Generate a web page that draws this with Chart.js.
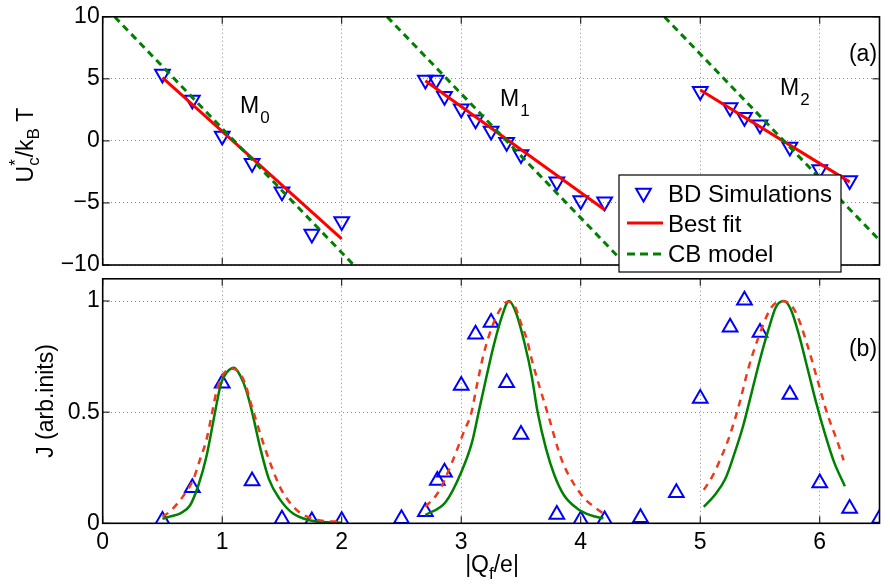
<!DOCTYPE html>
<html>
<head>
<meta charset="utf-8">
<title>U*c/kBT and J vs |Qf/e|</title>
<script src="https://cdn.jsdelivr.net/npm/chart.js@4.4.1/dist/chart.umd.min.js"></script>
<style>
  html, body { margin: 0; padding: 0; background: #fff; }
  #wrap { position: relative; width: 890px; height: 586px; overflow: hidden; }
  #wrap canvas { position: absolute; left: 0; }
  #topChart { top: 0; }
  #botChart { top: 262px; }
</style>
</head>
<body>
<div id="wrap">
  <canvas id="topChart" width="890" height="290"></canvas>
  <canvas id="botChart" width="890" height="324"></canvas>
</div>
<script>
// ---------- panel (a) : U*_c / k_B T ----------
var m0Q = [0.5, 0.75, 1.0, 1.25, 1.5, 1.75, 2.0];
var m0U = [5.4, 3.3, 0.4, -1.8, -4.1, -7.5, -6.5];
var m1Q = [2.7, 2.79, 2.86, 3.0, 3.12, 3.25, 3.38, 3.5, 3.8, 4.0, 4.2];
var m1U = [4.9, 4.9, 3.6, 2.6, 1.7, 0.8, -0.1, -1.1, -3.3, -4.8, -4.9];
var m2Q = [5.0, 5.25, 5.37, 5.5, 5.75, 6.0, 6.25];
var m2U = [4.0, 2.7, 1.9, 1.3, -0.5, -2.3, -3.2];

// best fit (end points of each segment)
var fit0Q = [0.5, 2.0],  fit0U = [5.1, -7.9];
var fit1Q = [2.7, 4.2],  fit1U = [4.85, -5.55];
var fit2Q = [5.0, 6.25], fit2U = [4.1, -3.3];

// CB model
var cb0Q = [0.1, 2.1],   cb0U = [10, -10];
var cb1Q = [2.38, 4.38], cb1U = [10, -10];
var cb2Q = [4.7, 6.7],   cb2U = [10, -10];

// ---------- panel (b) : J ----------
var jQ = [0.5, 0.75, 1.0, 1.25, 1.5, 1.75, 2.0, 2.5,
          2.7, 2.8, 2.86, 3.0, 3.12, 3.25, 3.38, 3.5, 3.8, 4.0, 4.2, 4.5, 4.8,
          5.0, 5.25, 5.37, 5.5, 5.75, 6.0, 6.25, 6.5];
var jVal = [0.013, 0.16, 0.63, 0.19, 0.018, 0.01, 0.012, 0.02,
            0.052, 0.193, 0.23, 0.62, 0.851, 0.903, 0.632, 0.40, 0.04, 0.015, 0.015, 0.025, 0.137,
            0.561, 0.882, 1.004, 0.858, 0.58, 0.181, 0.067, 0.022];

// green solid curves
var gQ0 = [0.5, 0.56, 0.65, 0.73, 0.8, 0.87, 0.94, 0.99, 1.04, 1.10, 1.15, 1.20, 1.25, 1.32, 1.39, 1.48, 1.59, 1.72, 1.85, 2.0];
var gJ0 = [0.02, 0.03, 0.045, 0.08, 0.17, 0.305, 0.5, 0.63, 0.68, 0.70, 0.665, 0.60, 0.5, 0.335, 0.2, 0.11, 0.045, 0.015, 0.006, 0.003];
var gQ1 = [2.70, 2.87, 3.0, 3.09, 3.145, 3.2, 3.27, 3.34, 3.40, 3.46, 3.53, 3.59, 3.64, 3.71, 3.78, 3.86, 3.97, 4.08, 4.19];
var gJ1 = [0.037, 0.096, 0.23, 0.364, 0.498, 0.632, 0.796, 0.93, 1.0, 0.945, 0.81, 0.662, 0.498, 0.335, 0.216, 0.126, 0.067, 0.037, 0.022];
var gQ2 = [5.03, 5.12, 5.21, 5.29, 5.36, 5.43, 5.50, 5.57, 5.635, 5.70, 5.76, 5.83, 5.90, 5.97, 6.04, 6.12, 6.21];
var gJ2 = [0.074, 0.126, 0.20, 0.32, 0.44, 0.588, 0.737, 0.87, 0.975, 1.0, 0.96, 0.84, 0.692, 0.543, 0.409, 0.275, 0.167];

// red dashed curves
var rQ0 = [0.5, 0.56, 0.67, 0.76, 0.81, 0.87, 0.91, 0.95, 0.99, 1.09, 1.19, 1.23, 1.28, 1.35, 1.42, 1.49, 1.56, 1.64, 1.75, 1.86, 1.99];
var rJ0 = [0.03, 0.052, 0.12, 0.2, 0.28, 0.38, 0.483, 0.588, 0.655, 0.695, 0.632, 0.558, 0.469, 0.35, 0.245, 0.156, 0.097, 0.052, 0.022, 0.01, 0.007];
var rQ1 = [2.70, 2.81, 2.92, 3.02, 3.085, 3.13, 3.19, 3.27, 3.35, 3.39, 3.45, 3.50, 3.55, 3.59, 3.67, 3.73, 3.81, 3.86, 3.95, 4.03, 4.13, 4.21];
var rJ1 = [0.074, 0.141, 0.27, 0.409, 0.498, 0.618, 0.766, 0.90, 0.982, 0.997, 0.975, 0.90, 0.826, 0.737, 0.588, 0.483, 0.334, 0.26, 0.171, 0.112, 0.067, 0.037];
var rQ2 = [5.03, 5.10, 5.17, 5.25, 5.33, 5.40, 5.48, 5.59, 5.68, 5.76, 5.815, 5.90, 5.98, 6.06, 6.15, 6.20];
var rJ2 = [0.15, 0.21, 0.29, 0.40, 0.543, 0.692, 0.826, 0.967, 1.0, 0.982, 0.93, 0.796, 0.647, 0.498, 0.364, 0.283];

// ticks
var qTicks = [0, 1, 2, 3, 4, 5, 6];
var uTicks = [-10, -5, 0, 5, 10];
var jTicks = [0, 0.5, 1];

var FAM = '"Liberation Sans", Arial, Helvetica, sans-serif';
var FONT = '23px ' + FAM;
var LEG = '24px ' + FAM;
var SUB = '17px ' + FAM;
var BLUE = '#0000ff', RED = '#ff0000', GREEN = '#008000', ORANGE = '#ee3a1c';
var BOT_TOP = 262; // page offset of the lower canvas

Chart.defaults.font.family = FAM;
Chart.defaults.font.size = 23;
Chart.defaults.color = '#000';

function pts(xs, ys) {
  return xs.map(function(x, i) { return { x: x, y: ys[i] }; });
}

// draws text made of pieces [text, font, dy, noAdvance]
function richText(ctx, parts, x, y) {
  var total = 0;
  parts.forEach(function(p) {
    ctx.font = p[1];
    p.w = ctx.measureText(p[0]).width;
    if (!p[3]) total += p.w;
  });
  var cx = x - total / 2;
  ctx.textAlign = 'left';
  ctx.textBaseline = 'alphabetic';
  parts.forEach(function(p) {
    ctx.font = p[1];
    ctx.fillText(p[0], cx, y + p[2]);
    if (!p[3]) cx += p.w;
  });
}

// box round the axes, with inward ticks on all four sides
var frame = {
  id: 'frame',
  afterDatasetsDraw: function(chart) {
    var ctx = chart.ctx, a = chart.chartArea;
    var sx = chart.scales.x, sy = chart.scales.y;
    ctx.save();
    ctx.strokeStyle = '#000';
    ctx.lineWidth = 1;
    ctx.beginPath();
    sx.ticks.forEach(function(t) {
      var p = sx.getPixelForValue(t.value);
      ctx.moveTo(p, a.bottom); ctx.lineTo(p, a.bottom - 7);
      ctx.moveTo(p, a.top); ctx.lineTo(p, a.top + 7);
    });
    sy.ticks.forEach(function(t) {
      var p = sy.getPixelForValue(t.value);
      ctx.moveTo(a.left, p); ctx.lineTo(a.left + 7, p);
      ctx.moveTo(a.right, p); ctx.lineTo(a.right - 7, p);
    });
    ctx.stroke();
    ctx.lineWidth = 1.6;
    ctx.strokeRect(a.left, a.top, a.right - a.left, a.bottom - a.top);
    ctx.restore();
  }
};

var topText = {
  id: 'topText',
  afterDraw: function(chart) {
    var ctx = chart.ctx;
    ctx.save();
    ctx.fillStyle = '#000';
    // M labels
    [['0', 240, 113], ['1', 500, 106], ['2', 780, 95]].forEach(function(m) {
      ctx.font = FONT;
      ctx.textAlign = 'left';
      ctx.textBaseline = 'alphabetic';
      ctx.fillText('M', m[1], m[2]);
      var w = ctx.measureText('M').width;
      ctx.font = SUB;
      ctx.fillText(m[0], m[1] + w + 1, m[2] + 10);
    });
    ctx.font = FONT;
    ctx.textAlign = 'center';
    ctx.textBaseline = 'middle';
    ctx.fillText('(a)', 863, 55);

    // y title
    ctx.save();
    ctx.translate(33, 145);
    ctx.rotate(-Math.PI / 2);
    richText(ctx, [['U', FONT, 0], ['*', SUB, -12, true], ['c', SUB, 6], ['/k', FONT, 0], ['B', SUB, 6], [' T', FONT, 0]], 0, 0);
    ctx.restore();

    // legend
    var L = 619, T = 175, R = 841, B = 272;
    ctx.fillStyle = '#fff';
    ctx.fillRect(L, T, R - L, B - T);
    ctx.strokeStyle = '#000';
    ctx.lineWidth = 1.2;
    ctx.strokeRect(L, T, R - L, B - T);
    // triangle
    var cx = 643.5, cy = 193, r = 8.5;
    ctx.beginPath();
    ctx.moveTo(cx, cy + r);
    ctx.lineTo(cx - r * 0.866, cy - r / 2);
    ctx.lineTo(cx + r * 0.866, cy - r / 2);
    ctx.closePath();
    ctx.strokeStyle = BLUE;
    ctx.lineWidth = 2;
    ctx.stroke();
    // best fit
    ctx.beginPath();
    ctx.moveTo(627, 223); ctx.lineTo(663, 223);
    ctx.strokeStyle = RED; ctx.lineWidth = 3;
    ctx.stroke();
    // CB model
    ctx.beginPath();
    ctx.setLineDash([8, 5]);
    ctx.moveTo(627, 254); ctx.lineTo(663, 254);
    ctx.strokeStyle = GREEN; ctx.lineWidth = 3;
    ctx.stroke();
    ctx.setLineDash([]);
    ctx.fillStyle = '#000';
    ctx.font = LEG;
    ctx.textAlign = 'left';
    ctx.textBaseline = 'alphabetic';
    ctx.fillText('BD Simulations', 668, 202);
    ctx.fillText('Best fit', 668, 232);
    ctx.fillText('CB model', 668, 262);
    ctx.restore();
  }
};

var botText = {
  id: 'botText',
  afterDraw: function(chart) {
    var ctx = chart.ctx;
    ctx.save();
    ctx.fillStyle = '#000';
    ctx.font = FONT;
    ctx.textAlign = 'center';
    ctx.textBaseline = 'middle';
    ctx.fillText('(b)', 863, 350 - BOT_TOP);
    // x title
    richText(ctx, [['|Q', FONT, 0], ['f', SUB, 7], ['/e|', FONT, 0]], 492, 572 - BOT_TOP);
    // y title
    ctx.save();
    ctx.translate(53, 401 - BOT_TOP);
    ctx.rotate(-Math.PI / 2);
    richText(ctx, [['J (arb.inits)', FONT, 0]], 0, 0);
    ctx.restore();
    ctx.restore();
  }
};

function lineSet(data, color, width, dash) {
  return {
    data: data, showLine: true, borderColor: color, borderWidth: width,
    borderDash: dash || [], pointRadius: 0, fill: false,
    cubicInterpolationMode: 'monotone'
  };
}

function markSet(data, rot) {
  return {
    data: data, showLine: false, pointStyle: 'triangle', rotation: rot,
    pointRadius: 8.5, pointBorderWidth: 2, pointBorderColor: BLUE,
    pointBackgroundColor: 'rgba(0,0,0,0)'
  };
}

function gridOpts() {
  return { color: 'rgba(0,0,0,0.45)', lineWidth: 1, drawTicks: false };
}

// ---- top chart ----
new Chart(document.getElementById('topChart'), {
  type: 'scatter',
  data: {
    datasets: [
      lineSet(pts(cb0Q, cb0U), GREEN, 3, [7, 5]),
      lineSet(pts(cb1Q, cb1U), GREEN, 3, [7, 5]),
      lineSet(pts(cb2Q, cb2U), GREEN, 3, [7, 5]),
      lineSet(pts(fit0Q, fit0U), RED, 3),
      lineSet(pts(fit1Q, fit1U), RED, 3),
      lineSet(pts(fit2Q, fit2U), RED, 3),
      markSet(pts(m0Q, m0U).concat(pts(m1Q, m1U), pts(m2Q, m2U)), 180)
    ]
  },
  options: {
    responsive: false,
    animation: false,
    devicePixelRatio: 1,
    layout: { padding: { top: 15, right: 1.7, bottom: 0, left: 0 } },
    plugins: { legend: { display: false }, tooltip: { enabled: false } },
    scales: {
      x: {
        type: 'linear', min: 0, max: 6.5,
        afterBuildTicks: function(s) { s.ticks = qTicks.map(function(v) { return { value: v }; }); },
        afterFit: function(s) { s.height = 25; },
        ticks: { display: false },
        grid: gridOpts(),
        border: { display: false, dash: [1, 3] }
      },
      y: {
        type: 'linear', min: -10, max: 10,
        afterBuildTicks: function(s) { s.ticks = uTicks.map(function(v) { return { value: v }; }); },
        afterFit: function(s) { s.width = 102.7; },
        ticks: {
          padding: 3,
          callback: function(v) { return v < 0 ? '\u2212' + Math.abs(v) : String(v); }
        },
        grid: gridOpts(),
        border: { display: false, dash: [1, 3] }
      }
    }
  },
  plugins: [frame, topText]
});

// ---- bottom chart ----
new Chart(document.getElementById('botChart'), {
  type: 'scatter',
  data: {
    datasets: [
      lineSet(pts(rQ0, rJ0), ORANGE, 2.5, [7, 6]),
      lineSet(pts(rQ1, rJ1), ORANGE, 2.5, [7, 6]),
      lineSet(pts(rQ2, rJ2), ORANGE, 2.5, [7, 6]),
      lineSet(pts(gQ0, gJ0), GREEN, 2.5),
      lineSet(pts(gQ1, gJ1), GREEN, 2.5),
      lineSet(pts(gQ2, gJ2), GREEN, 2.5),
      markSet(pts(jQ, jVal), 0)
    ]
  },
  options: {
    responsive: false,
    animation: false,
    devicePixelRatio: 1,
    layout: { padding: { top: 276.7 - BOT_TOP, right: 1.7, bottom: 0, left: 0 } },
    plugins: { legend: { display: false }, tooltip: { enabled: false } },
    scales: {
      x: {
        type: 'linear', min: 0, max: 6.5,
        afterBuildTicks: function(s) { s.ticks = qTicks.map(function(v) { return { value: v }; }); },
        afterFit: function(s) { s.height = 324 - (523.3 - BOT_TOP); },
        ticks: { padding: 6, maxRotation: 0, callback: function(v) { return String(v); } },
        grid: gridOpts(),
        border: { display: false, dash: [1, 3] }
      },
      y: {
        type: 'linear', min: 0, max: 1.1,
        afterBuildTicks: function(s) { s.ticks = jTicks.map(function(v) { return { value: v }; }); },
        afterFit: function(s) { s.width = 102.7; },
        ticks: { padding: 3, callback: function(v) { return String(v); } },
        grid: gridOpts(),
        border: { display: false, dash: [1, 3] }
      }
    }
  },
  plugins: [frame, botText]
});
</script>
</body>
</html>
